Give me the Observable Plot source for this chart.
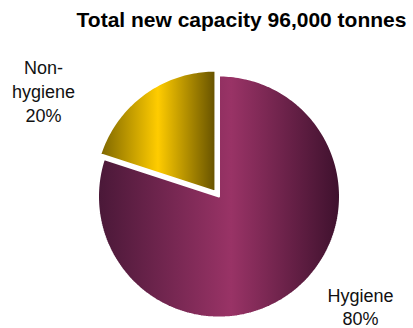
<!DOCTYPE html>
<html>
<head>
<meta charset="utf-8">
<script src="https://cdn.jsdelivr.net/npm/d3@7"></script>
<script src="https://cdn.jsdelivr.net/npm/@observablehq/plot@0.6"></script>
<style>
  body { margin: 0; background: #fff; font-family: Arial, "Liberation Sans", sans-serif; }
  #chart { width: 413px; height: 328px; position: relative; overflow: hidden; }
  #title {
    position: absolute; left: 60px; top: 8px; width: 363px; margin: 0;
    text-align: center; white-space: nowrap;
    font-size: 21px; line-height: 24px; font-weight: bold; color: #000;
  }
  #plot { position: absolute; left: 0; top: 40px; }
</style>
</head>
<body>
<div id="chart">
  <h1 id="title">Total new capacity 96,000 tonnes</h1>
  <div id="plot"></div>
</div>
<script>
// Share of total new capacity (96,000 tonnes) by product type
const categories = ["Hygiene", "Non-hygiene"];
const shares = [80, 20];
const sliceLabels = ["Hygiene\n80%", "Non-\nhygiene\n20%"];

// Layout (pixels)
const W = 413, H = 288;
const cx = 218.5, cy = 156, R = 121;
const explode = {"Non-hygiene": 0.05};
const labelAt = {"Hygiene": [360, 265.5], "Non-hygiene": [43, 49.5]};
const labelLead = {"Hygiene": 1.28, "Non-hygiene": 1.33};
const fills = {"Hygiene": "url(#gradHygiene)", "Non-hygiene": "url(#gradNonHygiene)"};

// Slice outlines built from the pie layout, in radius units (y up)
const arcs = d3.pie().sort(null).value(d => d)(shares);
const outline = [];
arcs.forEach((a, i) => {
  const name = categories[i];
  const mid = (a.startAngle + a.endAngle) / 2;
  const off = explode[name] || 0;
  const ox = off * Math.sin(mid), oy = off * Math.cos(mid);
  outline.push({slice: name, x: ox, y: oy});
  const n = Math.max(8, Math.ceil((a.endAngle - a.startAngle) / 0.02));
  for (let k = 0; k <= n; ++k) {
    const t = a.startAngle + (a.endAngle - a.startAngle) * k / n;
    outline.push({slice: name, x: ox + Math.sin(t), y: oy + Math.cos(t)});
  }
  outline.push({slice: name, x: ox, y: oy});
});

const labelRows = categories.map((c, i) => ({
  slice: c,
  text: sliceLabels[i],
  x: (labelAt[c][0] - cx) / R,
  y: (cy - labelAt[c][1]) / R
}));

const plot = Plot.plot({
  width: W,
  height: H,
  margin: 0,
  style: {background: "transparent"},
  x: {domain: [-cx / R, (W - cx) / R], axis: null},
  y: {domain: [-(H - cy) / R, cy / R], axis: null},
  marks: [
    ...categories.map(c => Plot.line(outline.filter(d => d.slice === c), {
      x: "x", y: "y",
      fill: fills[c],
      stroke: "#fff",
      strokeWidth: 2,
      strokeLinejoin: "miter"
    })),
    ...categories.map(c => Plot.text(labelRows.filter(d => d.slice === c), {
      x: "x", y: "y", text: "text",
      fontSize: 18,
      lineHeight: labelLead[c],
      fontFamily: "Arial, 'Liberation Sans', sans-serif",
      fill: "#111"
    }))
  ]
});

// Horizontal shading gradients for the slices
const defs = d3.select(plot).insert("defs", ":first-child");
function gradient(id, stops) {
  const g = defs.append("linearGradient").attr("id", id)
    .attr("x1", 0).attr("y1", 0).attr("x2", 1).attr("y2", 0);
  stops.forEach(([o, c]) => g.append("stop").attr("offset", o).attr("stop-color", c));
}
gradient("gradHygiene", [[0, "#4a1838"], [0.55, "#993366"], [1, "#3e112d"]]);
gradient("gradNonHygiene", [[0, "#7d6600"], [0.5, "#ffcc00"], [1, "#665200"]]);

document.getElementById("plot").appendChild(plot);
</script>
</body>
</html>
